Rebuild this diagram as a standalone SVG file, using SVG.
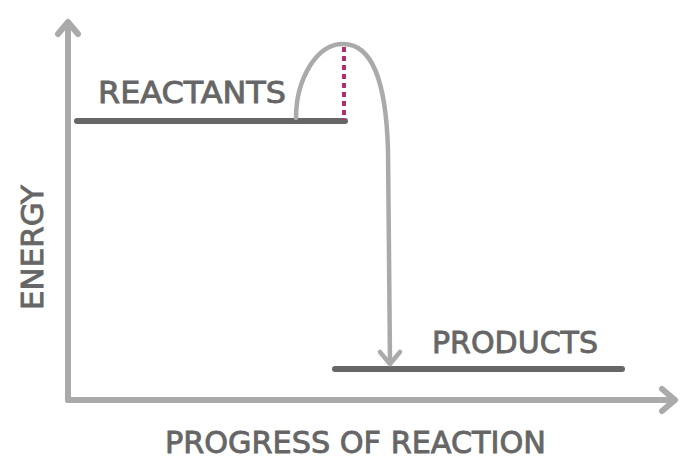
<svg xmlns="http://www.w3.org/2000/svg" width="696" height="474" viewBox="0 0 696 474">
<style>
.ax{fill:none;stroke:#aaaaaa;stroke-width:6;stroke-linecap:round;stroke-linejoin:round}
.lvl{fill:none;stroke:#666666;stroke-width:6;stroke-linecap:round}
.crv{fill:none;stroke:#aaaaaa;stroke-width:4.5;stroke-linecap:round;stroke-linejoin:round}
.t{font-family:"DejaVu Sans","Liberation Sans",sans-serif;fill:#666666;stroke:#666666;stroke-width:0.9;font-size:31px}
</style>
<rect width="696" height="474" fill="#ffffff"/>
<g id="axes" class="ax">
<path d="M68,400 L68,24"/>
<path d="M58,34 L68,22 L78,34"/>
<path d="M68,400 L674,400"/>
<path d="M662,389 L675,400 L662,411"/>
</g>
<g id="reactants">
<path class="lvl" d="M77,121 L345,121"/>
<text class="t" x="98" y="103" textLength="188" lengthAdjust="spacingAndGlyphs">REACTANTS</text>
</g>
<g id="products">
<path class="lvl" d="M335,369 L622,369"/>
<text class="t" x="432" y="353" textLength="166" lengthAdjust="spacingAndGlyphs">PRODUCTS</text>
</g>
<g id="connectors">
<path class="crv" d="M296,118 C296,80 316,44 343,44 C372,44 386,80 388,150 L390,362"/>
<path class="crv" d="M380,352 L390,364 L400,352"/>
<path d="M344,47 L344,120" fill="none" stroke="#b0306a" stroke-width="4" stroke-dasharray="5,4"/>
</g>
<g id="labels">
<text class="t" x="165" y="453" textLength="381" lengthAdjust="spacingAndGlyphs">PROGRESS OF REACTION</text>
<text class="t" transform="translate(43,310) rotate(-90)" x="0" y="0" textLength="125" lengthAdjust="spacingAndGlyphs">ENERGY</text>
</g>
</svg>
